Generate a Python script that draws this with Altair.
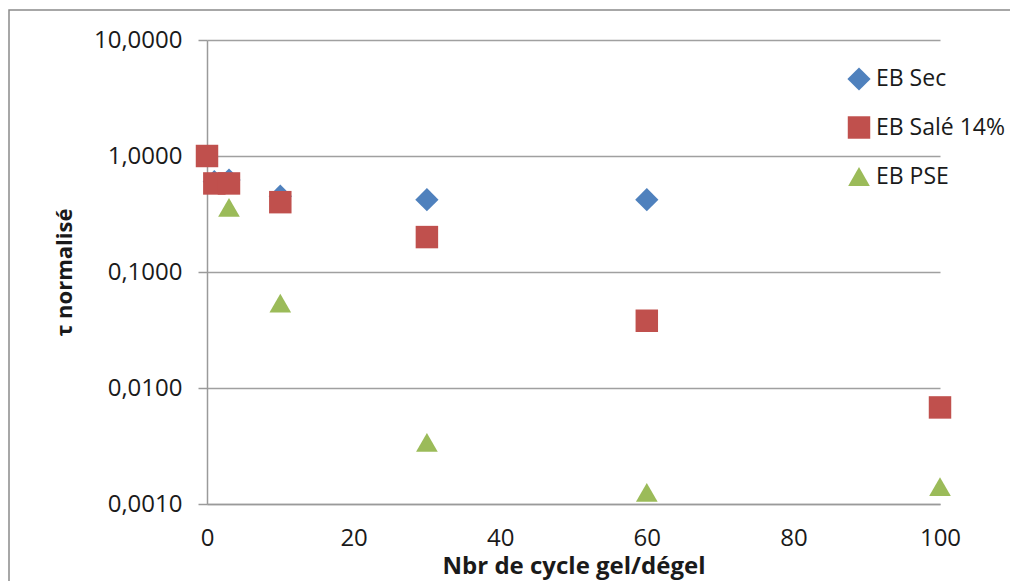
import altair as alt
import pandas as pd

# ---- data ----
series_names = ["EB Sec", "EB Salé 14%", "EB PSE"]

sec_cycles = [1, 3, 10, 30, 60]
sec_tau = [0.60, 0.62, 0.45, 0.42, 0.42]

sale_cycles = [0, 1, 3, 10, 30, 60, 100]
sale_tau = [1.0, 0.58, 0.58, 0.40, 0.20, 0.038, 0.0068]

pse_cycles = [3, 10, 30, 60, 100]
pse_tau = [0.36, 0.054, 0.0034, 0.00126, 0.00141]

x_ticks = [0, 20, 40, 60, 80, 100]
y_ticks = [0.001, 0.01, 0.1, 1, 10]

colors = ["#4F81BD", "#C0504D", "#9BBB59"]
shapes = ["diamond", "square", "triangle-up"]
sizes = [540, 470, 560]

rows = []
for name, xs, ys in [(series_names[0], sec_cycles, sec_tau),
                     (series_names[1], sale_cycles, sale_tau),
                     (series_names[2], pse_cycles, pse_tau)]:
    for x, y in zip(xs, ys):
        rows.append({"serie": name, "cycles": x, "tau": y})
df = pd.DataFrame(rows)
df["ordre"] = range(len(df))

FONT = "Open Sans"

frame = alt.Chart(pd.DataFrame({"k": [0]})).mark_rect(
    fill="white", fillOpacity=0, stroke="#8a8a8a", strokeWidth=1.5
).encode(
    x=alt.value(-198), x2=alt.value(900),
    y=alt.value(-30), y2=alt.value(700),
)

points = alt.Chart(df).mark_point(filled=True, opacity=1, strokeWidth=0).encode(
    x=alt.X(
        "cycles:Q",
        scale=alt.Scale(domain=[0, 100], nice=False, zero=False),
        axis=alt.Axis(
            values=x_ticks, title="Nbr de cycle gel/dégel", ticks=False, tickSize=0,
            grid=False, labelPadding=22, titlePadding=4, labelFontSize=24,
            titleFontSize=24, titleFontWeight="bold", labelFlush=False,
        ),
    ),
    y=alt.Y(
        "tau:Q",
        scale=alt.Scale(type="log", domain=[0.001, 10], nice=False),
        axis=alt.Axis(
            values=y_ticks,
            labelExpr="replace(format(datum.value, '.4f'), '.', ',')",
            title="τ normalisé", grid=True, tickSize=9, labelPadding=16,
            titlePadding=17, labelFontSize=24, titleFontSize=22,
            titleFontWeight="bold", labelFlush=False,
        ),
    ),
    color=alt.Color(
        "serie:N",
        scale=alt.Scale(domain=series_names, range=colors),
        legend=alt.Legend(
            title=None, orient="none", legendX=640, legendY=27,
            symbolSize=300, labelFontSize=23, rowPadding=25, labelOffset=5,
            symbolStrokeWidth=0, padding=0, labelColor="#1a1a1a", labelFont=FONT,
        ),
    ),
    shape=alt.Shape("serie:N", scale=alt.Scale(domain=series_names, range=shapes)),
    size=alt.Size("serie:N", scale=alt.Scale(domain=series_names, range=sizes), legend=None),
    order=alt.Order("ordre:Q"),
)

chart = alt.layer(frame, points).properties(
    width=733,
    height=464,
    autosize=alt.AutoSizeParams(type="none"),
    padding={"left": 199, "top": 32, "right": 70, "bottom": 77},
    background="white",
).configure_view(stroke=None).configure_axis(
    labelFont=FONT, titleFont=FONT, labelColor="#1a1a1a", titleColor="#1a1a1a",
    domainColor="#9a9a9a", domainWidth=1.5, tickColor="#9a9a9a", tickWidth=1.5,
    gridColor="#a0a0a0", gridWidth=1.5,
)

chart.save("out.html", embed_options={"renderer": "svg", "actions": False})
